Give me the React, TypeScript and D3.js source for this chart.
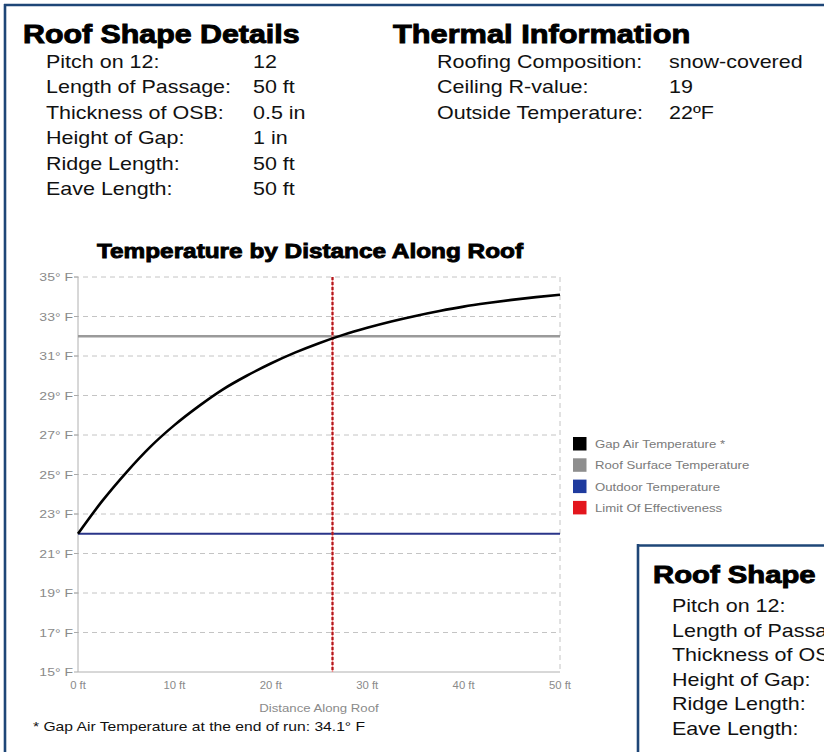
import React from "react";
import * as d3 from "d3";

// ---------- data ----------
const roofLabels = ["Pitch on 12:", "Length of Passage:", "Thickness of OSB:", "Height of Gap:", "Ridge Length:", "Eave Length:"];
const roofValues = ["12", "50 ft", "0.5 in", "1 in", "50 ft", "50 ft"];
const thermalLabels = ["Roofing Composition:", "Ceiling R-value:", "Outside Temperature:"];
const thermalValues = ["snow-covered", "19", "22ºF"];

const distanceFt = [0, 2.5, 5, 7.5, 10, 12.5, 15, 17.5, 20, 22.5, 25, 27.5, 30, 32.5, 35, 37.5, 40, 42.5, 45, 47.5, 50];
const gapAirTemp = [22.0, 23.65, 25.1, 26.4, 27.5, 28.45, 29.3, 30.0, 30.62, 31.17, 31.65, 32.07, 32.43, 32.75, 33.03, 33.28, 33.5, 33.68, 33.84, 33.98, 34.1];
const roofSurfaceTemp = 32;
const outdoorTemp = 22;
const limitOfEffectivenessFt = 26.4;

const yTicks = [15, 17, 19, 21, 23, 25, 27, 29, 31, 33, 35];
const xTicks = [0, 10, 20, 30, 40, 50];
const legendLabels = ["Gap Air Temperature *", "Roof Surface Temperature", "Outdoor Temperature", "Limit Of Effectiveness"];
const legendColors = ["#000000", "#8e8e8e", "#1f3b9e", "#e3161d"];

const chartTitle = "Temperature by Distance Along Roof";
const xAxisTitle = "Distance Along Roof";
const footnote = "* Gap Air Temperature at the end of run: 34.1° F";

// ---------- helpers ----------
const FONT = "'Liberation Sans', Arial, Helvetica, sans-serif";
const NAVY = "#1e4677";

function Txt(props: {
  x: number; y: number; size: number; sx?: number; bold?: boolean; fill?: string;
  anchor?: "start" | "middle" | "end"; heavy?: boolean; children: React.ReactNode; textLength?: number;
}) {
  const { x, y, size, sx = 1, bold, fill = "#000", anchor = "start", heavy, children, textLength } = props;
  return (
    <text
      transform={`translate(${x},${y}) scale(${sx},1)`}
      fontFamily={FONT}
      fontSize={size}
      fontWeight={bold ? "bold" : "normal"}
      fill={fill}
      stroke={heavy ? fill : "none"}
      strokeWidth={heavy ? 0.9 : 0}
      textAnchor={anchor}
      textLength={textLength}
      lengthAdjust={textLength ? "spacingAndGlyphs" : undefined}
    >
      {children}
    </text>
  );
}

export default function App() {
  const W = 824, H = 752;
  const x = d3.scaleLinear().domain([0, 50]).range([78, 560]);
  const y = d3.scaleLinear().domain([15, 35]).range([672, 277]);

  const line = d3
    .line<number>()
    .x((_, i) => x(distanceFt[i]))
    .y((d) => y(d))
    .curve(d3.curveMonotoneX);

  const rowGap = 25.4;
  const rowGap2 = 24.6;

  return (
    <div style={{ position: "fixed", left: 0, top: 0, width: W, height: H, overflow: "hidden", background: "#fff" }}>
      <svg width={W} height={H} viewBox={`0 0 ${W} ${H}`} style={{ display: "block", background: "#fff" }}>
        <rect x={0} y={0} width={W} height={H} fill="#fff" />
        {/* frame */}
        <line x1={4} x2={W + 2} y1={5} y2={5} stroke={NAVY} strokeWidth={2.6} />
        <line x1={5} x2={5} y1={4} y2={H + 2} stroke={NAVY} strokeWidth={2.6} />

        {/* Roof shape details */}
        <Txt x={23} y={43} size={25} sx={1.215} bold heavy>Roof Shape Details</Txt>
        {roofLabels.map((l, i) => (
          <g key={l}>
            <Txt x={46} y={68 + i * rowGap} size={18.6} sx={1.155} fill="#111">{l}</Txt>
            <Txt x={253} y={68 + i * rowGap} size={18.6} sx={1.155} fill="#111">{roofValues[i]}</Txt>
          </g>
        ))}

        {/* Thermal information */}
        <Txt x={393} y={43} size={25} sx={1.23} bold heavy>Thermal Information</Txt>
        {thermalLabels.map((l, i) => (
          <g key={l}>
            <Txt x={437} y={68 + i * rowGap} size={18.6} sx={1.155} fill="#111">{l}</Txt>
            <Txt x={669} y={68 + i * rowGap} size={18.6} sx={1.155} fill="#111">{thermalValues[i]}</Txt>
          </g>
        ))}

        {/* chart title */}
        <Txt x={97} y={258} size={20.5} bold heavy textLength={426}>{chartTitle}</Txt>

        {/* grid */}
        {yTicks.map((t) => (
          <g key={t}>
            {t !== 15 && (
              <line x1={74} x2={x(50)} y1={y(t)} y2={y(t)} stroke="#c4c4c4" strokeWidth={1} strokeDasharray="5,4" />
            )}
            <line x1={74} x2={78} y1={y(t)} y2={y(t)} stroke="#aaa" strokeWidth={1} />
            <Txt x={73} y={y(t) + 4} size={11.5} sx={1.22} fill="#8a8a8a" anchor="end">{`${t}° F`}</Txt>
          </g>
        ))}
        <line x1={x(50)} x2={x(50)} y1={y(35)} y2={y(15)} stroke="#c4c4c4" strokeWidth={1} strokeDasharray="5,4" />
        <line x1={x(0)} x2={x(0)} y1={y(35)} y2={y(15)} stroke="#b0b0b0" strokeWidth={1} />
        <line x1={x(0)} x2={x(50)} y1={y(15)} y2={y(15)} stroke="#b0b0b0" strokeWidth={1} />

        {xTicks.map((t) => (
          <Txt key={t} x={x(t)} y={689} size={10.5} sx={1.08} fill="#8a8a8a" anchor="middle">{`${t} ft`}</Txt>
        ))}
        <Txt x={(x(0) + x(50)) / 2} y={712} size={11} sx={1.2} fill="#8a8a8a" anchor="middle">{xAxisTitle}</Txt>

        {/* series */}
        <line x1={x(0)} x2={x(50)} y1={y(roofSurfaceTemp)} y2={y(roofSurfaceTemp)} stroke="#9a9a9a" strokeWidth={2.6} />
        <line x1={x(0)} x2={x(50)} y1={y(outdoorTemp)} y2={y(outdoorTemp)} stroke="#2a3589" strokeWidth={2} />
        <line x1={x(limitOfEffectivenessFt)} x2={x(limitOfEffectivenessFt)} y1={y(35)} y2={y(15)} stroke="#f08a8a" strokeWidth={1.5} />
        <line x1={x(limitOfEffectivenessFt)} x2={x(limitOfEffectivenessFt)} y1={y(35)} y2={y(15)} stroke="#b3171c" strokeWidth={2.2} strokeDasharray="3,2" />
        <path d={line(gapAirTemp) || ""} fill="none" stroke="#000" strokeWidth={2.6} />

        {/* legend */}
        {legendLabels.map((l, i) => (
          <g key={l}>
            <rect x={573} y={437 + i * 21.3} width={13.5} height={13.5} fill={legendColors[i]} />
            <Txt x={595} y={448 + i * 21.3} size={11} sx={1.2} fill="#7a7a7a">{l}</Txt>
          </g>
        ))}

        {/* footnote */}
        <Txt x={33} y={731} size={13} fill="#111" textLength={332}>{footnote}</Txt>

        {/* overlapping second panel */}
        <rect x={638} y={545.5} width={200} height={220} fill="#fff" />
        <line x1={637} x2={W + 2} y1={545.5} y2={545.5} stroke={NAVY} strokeWidth={2.6} />
        <line x1={638} x2={638} y1={544} y2={H + 2} stroke={NAVY} strokeWidth={2.6} />
        <Txt x={653} y={583} size={24} sx={1.22} bold heavy>Roof Shape Details</Txt>
        {roofLabels.map((l, i) => (
          <g key={"b" + l}>
            <Txt x={672} y={612 + i * rowGap2} size={18.6} sx={1.155} fill="#111">{l}</Txt>
            <Txt x={879} y={612 + i * rowGap2} size={18.6} sx={1.155} fill="#111">{roofValues[i]}</Txt>
          </g>
        ))}
        <rect x={814} y={8} width={12} height={535} fill="#fff" />
      </svg>
    </div>
  );
}
